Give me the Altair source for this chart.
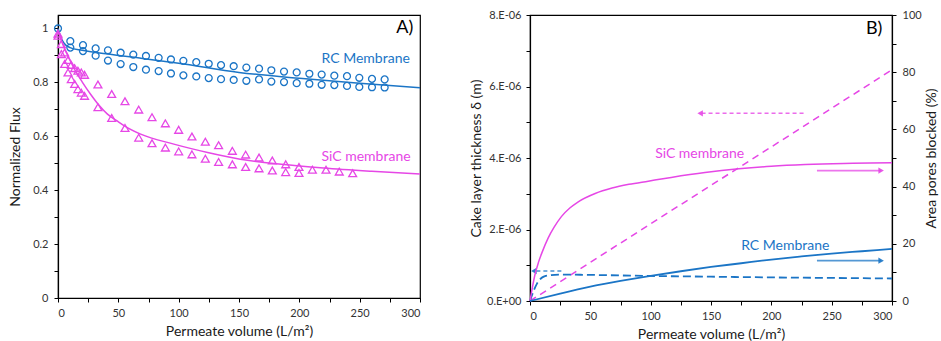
import altair as alt
import pandas as pd

BLUE = "#1B75C6"
PINK = "#E647E6"
FONT = "Lato"

# ---------------- Panel A: normalized flux ----------------
rc_x_a = [0, 10.2, 20.7, 31.2, 41.4, 51.9, 62.4, 72.9, 83.4, 93.6, 103.9, 114.6, 124.9, 135.1,
          145.6, 156.1, 166.6, 176.8, 187.3, 197.8, 208.3, 218.5, 229, 239.5, 249.7, 260.2, 270.7]
rc_y_a = [1.0, 0.953, 0.938, 0.926, 0.919, 0.910, 0.903, 0.898, 0.891, 0.885, 0.880, 0.875, 0.869, 0.864,
          0.860, 0.855, 0.851, 0.845, 0.840, 0.837, 0.832, 0.829, 0.825, 0.823, 0.817, 0.813, 0.811]
rc_x_b = [10.2, 20.7, 31.2, 41.4, 51.9, 62.4, 72.9, 83.4, 93.6, 103.9, 114.6, 124.9, 135.1,
          145.6, 156.1, 166.6, 176.8, 187.3, 197.8, 208.3, 218.5, 229, 239.5, 249.7, 260.2, 270.7]
rc_y_b = [0.929, 0.916, 0.899, 0.881, 0.868, 0.857, 0.847, 0.842, 0.833, 0.826, 0.822, 0.816, 0.812,
          0.809, 0.806, 0.811, 0.803, 0.801, 0.797, 0.795, 0.791, 0.790, 0.787, 0.783, 0.782, 0.781]

sic_x_a = [0, 2.8, 5.5, 8.3, 11, 13.8, 16.5, 19.3, 22, 33.1, 44.5, 55.5, 66.9, 77.9, 89, 100, 111,
           122.1, 133.1, 144.5, 155.5, 166.6, 177.6, 188.7, 199.7, 210.8, 222.1, 233.1, 244.2]
sic_y_a = [0.981, 0.942, 0.911, 0.883, 0.865, 0.853, 0.843, 0.837, 0.828, 0.792, 0.757, 0.730, 0.699,
           0.671, 0.648, 0.624, 0.599, 0.580, 0.567, 0.546, 0.532, 0.521, 0.510, 0.496, 0.486, 0.476,
           0.476, 0.469, 0.463]
sic_x_b = [0, 2.8, 5.5, 8.3, 11, 13.8, 16.5, 19.3, 22, 33.1, 44.5, 55.5, 66.9, 77.9, 89, 100, 111,
           122.1, 133.1, 144.5, 155.5, 166.6, 177.6, 188.7, 199.7]
sic_y_b = [0.973, 0.905, 0.868, 0.837, 0.812, 0.794, 0.775, 0.762, 0.750, 0.708, 0.668, 0.631, 0.595,
           0.574, 0.558, 0.544, 0.533, 0.517, 0.505, 0.496, 0.486, 0.481, 0.473, 0.467, 0.464]

rc_fit_x = [0, 2, 5, 10, 20, 40, 70, 100, 150, 200, 250, 300]
rc_fit_y = [1.0, 0.972, 0.945, 0.929, 0.919, 0.906, 0.889, 0.871, 0.837, 0.815, 0.797, 0.780]
sic_fit_x = [0, 5, 10, 13.3, 20, 27, 34, 41, 49, 55, 68.5, 96, 124, 151, 185, 220, 260, 300]
sic_fit_y = [0.99, 0.93, 0.882, 0.852, 0.802, 0.756, 0.715, 0.682, 0.657, 0.639, 0.608, 0.571,
             0.540, 0.515, 0.496, 0.482, 0.470, 0.460]

# ---------------- Panel B: cake thickness and blocked area ----------------
sic_cake_x = [0, 100, 200, 300]
sic_cake_y = [0.0, 2.16e-6, 4.31e-6, 6.47e-6]
rc_cake_x = [0, 3, 6, 9, 12, 16, 25, 50, 100, 150, 200, 250, 300]
rc_cake_y = [0.0, 0.28e-6, 0.50e-6, 0.63e-6, 0.69e-6, 0.72e-6, 0.74e-6, 0.73e-6, 0.70e-6,
             0.68e-6, 0.66e-6, 0.645e-6, 0.63e-6]
sic_area_x = [0, 2, 4, 7, 10, 15, 20, 26, 33, 40, 54, 68, 82, 98, 117, 145, 173, 200, 228, 260, 300]
sic_area_y = [0, 4.8, 9.0, 13.5, 17.0, 22.0, 25.8, 29.5, 32.5, 34.7, 37.6, 39.5, 40.8, 41.9,
              43.2, 44.9, 46.2, 47.1, 47.7, 48.1, 48.3]
rc_area_x = [0, 25, 50, 75, 100, 125, 150, 175, 200, 225, 250, 275, 300]
rc_area_y = [0, 2.6, 5.0, 7.0, 8.8, 10.4, 11.9, 13.2, 14.5, 15.6, 16.6, 17.4, 18.2]

x_title = "Permeate volume (L/m²)"

x_ticks = list(range(0, 301, 25))
x_axis = alt.Axis(values=x_ticks, labelExpr="datum.value % 50 == 0 ? datum.label : ''",
                  tickSize=4, labelPadding=5, titlePadding=6)
X = alt.X("x:Q", scale=alt.Scale(domain=[0, 300], nice=False), axis=x_axis, title=x_title)


def df(xs, ys, **extra):
    d = pd.DataFrame({"x": xs, "y": ys})
    for k, v in extra.items():
        d[k] = v
    return d


# Panel A layers
flux_y_ticks = [0, 0.1, 0.2, 0.3, 0.4, 0.5, 0.6, 0.7, 0.8, 0.9, 1.0]
YA = alt.Y("y:Q", scale=alt.Scale(domain=[0, 1.05], nice=False),
           axis=alt.Axis(values=flux_y_ticks,
                         labelExpr="round(datum.value * 10) % 2 == 0 ? format(datum.value, '~g') : ''",
                         tickSize=4, labelPadding=6, titlePadding=10),
           title="Normalized Flux")

rc_pts = pd.concat([df(rc_x_a, rc_y_a), df(rc_x_b, rc_y_b)])
sic_pts = pd.concat([df(sic_x_a, sic_y_a), df(sic_x_b, sic_y_b)])

a_rc_pts = alt.Chart(rc_pts).mark_point(shape="circle", filled=False, size=48, strokeWidth=1.3,
                                         color=BLUE, opacity=1).encode(x=X, y=YA)
a_sic_pts = alt.Chart(sic_pts).mark_point(shape="triangle-up", filled=False, size=62, strokeWidth=1.3,
                                           color=PINK, opacity=1).encode(x=X, y=YA)
a_rc_fit = alt.Chart(df(rc_fit_x, rc_fit_y)).mark_line(color=BLUE, strokeWidth=1.5,
                                                       interpolate="monotone").encode(x=X, y=YA)
a_sic_fit = alt.Chart(df(sic_fit_x, sic_fit_y)).mark_line(color=PINK, strokeWidth=1.5,
                                                         interpolate="monotone").encode(x=X, y=YA)

a_labels = pd.DataFrame({
    "x": [291.6, 292.2],
    "y": [0.886, 0.524],
    "label": ["RC Membrane", "SiC membrane"],
    "c": [BLUE, PINK],
})
a_text = alt.Chart(a_labels).mark_text(align="right", baseline="middle", font=FONT, fontSize=14).encode(
    x=X, y=YA, text="label:N", color=alt.Color("c:N", scale=None))
a_tag = alt.Chart(pd.DataFrame({"x": [294.5], "y": [1.0], "label": ["A)"]})).mark_text(
    align="right", baseline="middle", font=FONT, fontSize=18, color="black").encode(x=X, y=YA, text="label:N")

panel_a = alt.layer(a_rc_fit, a_sic_fit, a_rc_pts, a_sic_pts, a_text, a_tag).properties(width=362, height=283)

# Panel B: left axis (cake thickness)
cake_ticks = [0, 1e-6, 2e-6, 3e-6, 4e-6, 5e-6, 6e-6, 7e-6, 8e-6]
YL = alt.Y("y:Q", scale=alt.Scale(domain=[0, 8e-6], nice=False),
           axis=alt.Axis(values=cake_ticks, orient="left",
                         labelExpr="round(datum.value * 1e6) % 2 == 0 ? (datum.value == 0 ? '0.E+00' : round(datum.value * 1e6) + '.E-06') : ''",
                         tickSize=4, labelPadding=5, titlePadding=3),
           title="Cake layer thickness δ (m)")

b_sic_cake = alt.Chart(df(sic_cake_x, sic_cake_y)).mark_line(color=PINK, strokeWidth=1.5,
                                                            strokeDash=[7, 5]).encode(x=X, y=YL)
b_rc_cake = alt.Chart(df(rc_cake_x, rc_cake_y)).mark_line(color=BLUE, strokeWidth=1.8, strokeDash=[8, 4],
                                                          interpolate="monotone").encode(x=X, y=YL)

cake_arrows = pd.DataFrame({
    "x": [226.7, 26.0],
    "x2": [141.0, 3.2],
    "y": [5.25e-6, 0.84e-6],
    "c": [PINK, BLUE],
})
b_cake_arrow_lines = alt.Chart(cake_arrows).mark_rule(strokeWidth=1.5, strokeDash=[4, 3], opacity=0.8).encode(
    x=X, x2="x2:Q", y=YL, color=alt.Color("c:N", scale=None))
b_cake_arrow_heads = alt.Chart(cake_arrows).mark_point(shape="triangle-left", filled=True, size=40,
                                                       opacity=0.9).encode(
    x=alt.X("x2:Q", scale=alt.Scale(domain=[0, 300], nice=False), axis=x_axis, title=x_title),
    y=YL, color=alt.Color("c:N", scale=None))

b_labels = pd.DataFrame({
    "x": [103.7, 175.0],
    "y": [4.11e-6, 1.54e-6],
    "label": ["SiC membrane", "RC Membrane"],
    "c": [PINK, BLUE],
})
b_text = alt.Chart(b_labels).mark_text(align="left", baseline="middle", font=FONT, fontSize=14).encode(
    x=X, y=YL, text="label:N", color=alt.Color("c:N", scale=None))
b_tag = alt.Chart(pd.DataFrame({"x": [292.0], "y": [7.61e-6], "label": ["B)"]})).mark_text(
    align="right", baseline="middle", font=FONT, fontSize=18, color="black").encode(x=X, y=YL, text="label:N")

left_group = alt.layer(b_sic_cake, b_rc_cake, b_cake_arrow_lines, b_cake_arrow_heads, b_text, b_tag)

# Panel B: right axis (blocked area), title reads bottom-to-top
area_ticks = list(range(0, 101, 10))
YR = alt.Y("y:Q", scale=alt.Scale(domain=[0, 100], nice=False),
           axis=alt.Axis(values=area_ticks, orient="right",
                         labelExpr="datum.value % 20 == 0 ? datum.label : ''",
                         tickSize=4, labelPadding=6, titlePadding=3, titleAngle=270,
                         titleBaseline="top"),
           title="Area pores blocked (%)")

b_sic_area = alt.Chart(df(sic_area_x, sic_area_y)).mark_line(color=PINK, strokeWidth=1.5,
                                                            interpolate="monotone").encode(x=X, y=YR)
b_rc_area = alt.Chart(df(rc_area_x, rc_area_y)).mark_line(color=BLUE, strokeWidth=1.8,
                                                          interpolate="monotone").encode(x=X, y=YR)

area_arrows = pd.DataFrame({
    "x": [237.8, 237.8],
    "x2": [291.0, 291.0],
    "y": [45.6, 14.1],
    "c": [PINK, BLUE],
})
b_area_arrow_lines = alt.Chart(area_arrows).mark_rule(strokeWidth=1.8, opacity=0.75).encode(
    x=X, x2="x2:Q", y=YR, color=alt.Color("c:N", scale=None))
b_area_arrow_heads = alt.Chart(area_arrows).mark_point(shape="triangle-right", filled=True, size=40,
                                                       opacity=0.9).encode(
    x=alt.X("x2:Q", scale=alt.Scale(domain=[0, 300], nice=False), axis=x_axis, title=x_title),
    y=YR, color=alt.Color("c:N", scale=None))

right_group = alt.layer(b_sic_area, b_rc_area, b_area_arrow_lines, b_area_arrow_heads)

panel_b = alt.layer(left_group, right_group).resolve_scale(y="independent").properties(width=362, height=286)

chart = alt.hconcat(panel_a, panel_b, spacing=44).properties(
    padding={"left": 8, "top": 8, "right": 0, "bottom": 0}
).configure_view(
    stroke="black", strokeWidth=1.2
).configure_axis(
    grid=False, domainColor="black", domainWidth=1.2, tickColor="black", tickWidth=1,
    labelFont=FONT, titleFont=FONT, labelFontSize=11, titleFontSize=14, titleFontWeight="normal",
    labelColor="#333333", titleColor="#1a1a1a"
)

chart.save("out.html", embed_options={"renderer": "svg", "actions": False})
